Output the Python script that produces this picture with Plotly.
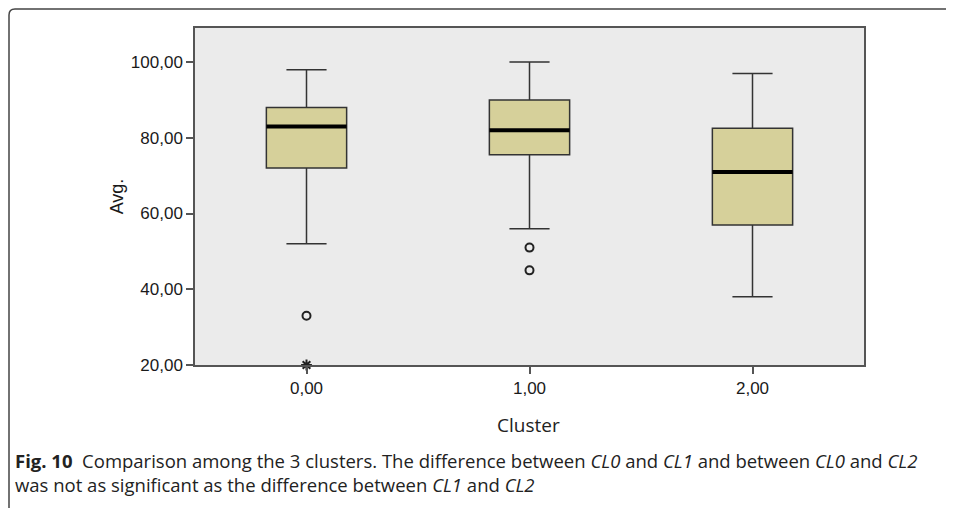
import plotly.graph_objects as go

# ---- data ----
categories = [0, 1, 2]
tick_labels = ["0,00", "1,00", "2,00"]
q1 = [72, 75.5, 57]
median = [83, 82, 71]
q3 = [88, 90, 82.5]
lower_whisker = [52, 56, 38]
upper_whisker = [98, 100, 97]
outlier_x = [0, 1, 1]
outlier_y = [33, 51, 45]
extreme_x = [0]
extreme_y = [20]
y_ticks = [20, 40, 60, 80, 100]
y_tick_labels = ["20,00", "40,00", "60,00", "80,00", "100,00"]

# ---- layout constants (page has an 8px body margin) ----
OFF = 8
W, H = 954 - OFF, 508 - OFF
PL, PR, PT, PB = 195, 864, 28, 365          # plot area in screen px
ML, MT = PL - OFF, PT - OFF
MR, MB = W - (PR - OFF), H - (PB - OFF)
PW, PH = PR - PL, PB - PT
BOX_W = 0.36
FILL = "#D6D09A"
EDGE = "#333333"

def px_x(p):  # screen px -> paper
    return (p - PL) / PW

def px_y(p):
    return (PB - p) / PH

fig = go.Figure()
fig.add_trace(go.Box(
    x=categories, q1=q1, median=median, q3=q3,
    lowerfence=lower_whisker, upperfence=upper_whisker,
    width=BOX_W, whiskerwidth=0.5, fillcolor=FILL,
    line=dict(color=EDGE, width=1.5), boxpoints=False,
    hoverinfo="skip", showlegend=False,
))

# thick median bars
mx, my = [], []
for c, m in zip(categories, median):
    mx += [c - BOX_W / 2, c + BOX_W / 2, None]
    my += [m, m, None]
fig.add_trace(go.Scatter(x=mx, y=my, mode="lines",
                         line=dict(color="#000000", width=4),
                         showlegend=False, hoverinfo="skip"))

fig.add_trace(go.Scatter(x=outlier_x, y=outlier_y, mode="markers",
                         marker=dict(symbol="circle-open", size=8, color="#222222",
                                     line=dict(color="#222222", width=2)),
                         showlegend=False, cliponaxis=False))
fig.add_trace(go.Scatter(x=extreme_x, y=extreme_y, mode="markers",
                         marker=dict(symbol="asterisk-open", size=9, color="#222222",
                                     line=dict(color="#222222", width=2)),
                         showlegend=False, cliponaxis=False))

axis_font = dict(family="Liberation Sans", size=17, color="#1a1a1a")
fig.update_layout(
    width=W, height=H,
    margin=dict(l=ML, r=MR, t=MT, b=MB, pad=0),
    paper_bgcolor="white", plot_bgcolor="#EBEBEB",
    xaxis=dict(range=[-0.5, 2.5], tickvals=categories, ticktext=tick_labels,
               showgrid=False, zeroline=False, showline=True, mirror=True,
               linecolor="#555555", linewidth=1.5, ticks="outside", ticklen=7,
               tickcolor="#555555", tickwidth=1.5, tickfont=axis_font),
    yaxis=dict(range=[20, 109], tickvals=y_ticks, ticktext=y_tick_labels,
               showgrid=False, zeroline=False, showline=True, mirror=True,
               linecolor="#555555", linewidth=1.5, ticks="outside", ticklen=7,
               tickcolor="#555555", tickwidth=1.5, tickfont=axis_font,
               title=dict(text="Avg.", font=dict(family="Liberation Sans", size=18,
                                                 color="#1a1a1a"), standoff=3)),
    font=axis_font,
)

cap_font = "Open Sans"
fig.add_annotation(text="Cluster", xref="paper", yref="paper",
                   x=px_x(528), y=px_y(425), showarrow=False,
                   xanchor="center", yanchor="middle",
                   font=dict(family=cap_font, size=19, color="#222222"))
fig.add_annotation(
    text="<b>Fig. 10</b>  Comparison among the 3 clusters. The difference between <i>CL0</i> and <i>CL1</i> and between <i>CL0</i> and <i>CL2</i>",
    xref="paper", yref="paper", x=px_x(13), y=px_y(460), showarrow=False,
    xanchor="left", yanchor="middle",
    font=dict(family=cap_font, size=18.5, color="#222222"))
fig.add_annotation(
    text="was not as significant as the difference between <i>CL1</i> and <i>CL2</i>",
    xref="paper", yref="paper", x=px_x(13), y=px_y(484), showarrow=False,
    xanchor="left", yanchor="middle",
    font=dict(family=cap_font, size=18.5, color="#222222"))

# rounded frame (top-left corner)
r = 6
fx, fy = 9, 9
path = (f"M {px_x(fx)},{px_y(530)} L {px_x(fx)},{px_y(fy + r)} "
        f"Q {px_x(fx)},{px_y(fy)} {px_x(fx + r)},{px_y(fy)} L {px_x(975)},{px_y(fy)}")
fig.add_shape(type="path", path=path, xref="paper", yref="paper",
              line=dict(color="#444444", width=1.5))

fig.write_html("out.html")
